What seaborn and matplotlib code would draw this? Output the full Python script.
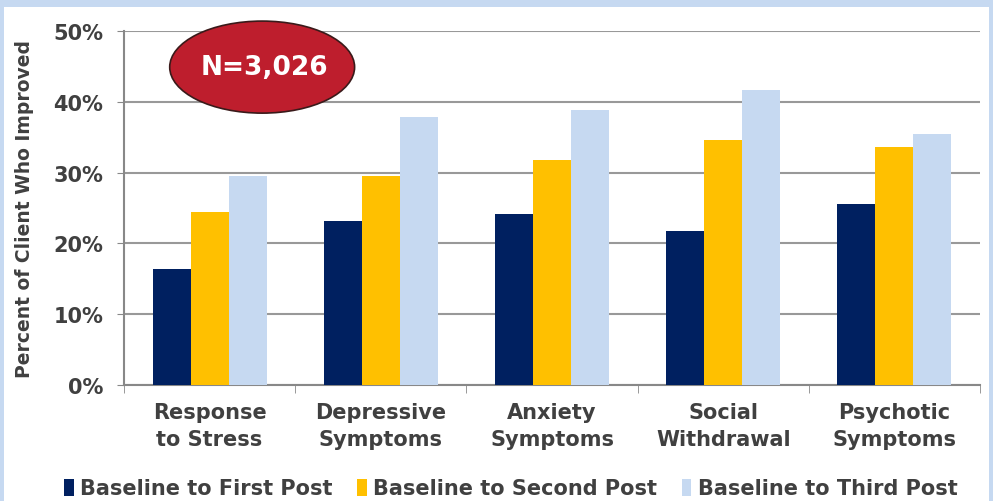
import pandas as pd
import matplotlib.pyplot as plt
import seaborn as sns
from matplotlib.patches import Ellipse, Rectangle

# Datos
categorias = ["Response\nto Stress", "Depressive\nSymptoms", "Anxiety\nSymptoms",
              "Social\nWithdrawal", "Psychotic\nSymptoms"]
series = ["Baseline to First Post", "Baseline to Second Post", "Baseline to Third Post"]
primero = [16.4, 23.2, 24.2, 21.7, 25.5]
segundo = [24.5, 29.5, 31.8, 34.6, 33.6]
tercero = [29.5, 37.9, 38.9, 41.7, 35.4]
colores = ["#002060", "#ffc000", "#c6d9f1"]

filas = []
for serie, valores in zip(series, [primero, segundo, tercero]):
    for cat, v in zip(categorias, valores):
        filas.append({"Categoria": cat, "Serie": serie, "Valor": v})
df = pd.DataFrame(filas)

sns.set_style("white")
plt.rcParams["font.family"] = ["DejaVu Sans"]
gris = "#404040"

fig = plt.figure(figsize=(9.93, 5.02), dpi=100, facecolor="#c6d9f1")
fig.patches.append(Rectangle((4 / 993, 0), 985 / 993, 494 / 502, transform=fig.transFigure,
                             facecolor="white", edgecolor="none", zorder=-10))
ax = fig.add_axes([124 / 993, 116 / 502, 856 / 993, 354 / 502])
ax.set_facecolor("none")

sns.barplot(data=df, x="Categoria", y="Valor", hue="Serie", palette=colores,
            width=0.667, ax=ax, saturation=1, linewidth=0, zorder=3)

ax.set_ylim(0, 50)
ax.set_xlim(-0.5, 4.5)
ax.set_yticks(range(0, 51, 10))
ax.set_yticklabels([f"{v}%" for v in range(0, 51, 10)], fontsize=15, fontweight="bold", color=gris)
ax.set_xticks(range(5))
ax.set_xticklabels(categorias, fontsize=15, fontweight="bold", color=gris, linespacing=1.45)
ax.set_xticks([i - 0.5 for i in range(6)], minor=True)
ax.tick_params(axis="x", which="major", length=0, pad=12)
ax.tick_params(axis="x", which="minor", length=6, color="#888888", direction="out", bottom=True)
ax.tick_params(axis="y", length=5, color="#888888", direction="out", left=True, pad=10)
ax.grid(axis="y", color="#999999", linewidth=1.5, zorder=0)
for s in ["top", "right"]:
    ax.spines[s].set_visible(False)
for s in ["left", "bottom"]:
    ax.spines[s].set_color("#888888")
    ax.spines[s].set_linewidth(1.5)
ax.set_xlabel("")
ax.set_ylabel("Percent of Client Who Improved", fontsize=13.5, fontweight="bold", color=gris, labelpad=14)

# Óvalo con el tamaño de la muestra
ax.add_patch(Ellipse((0.307, 44.9), 1.08, 13, facecolor="#be1e2d", edgecolor="#3a1a1a",
                     linewidth=1.2, zorder=5, clip_on=False))
ax.text(0.32, 44.9, "N=3,026", ha="center", va="center", fontsize=19,
        fontweight="bold", color="white", zorder=6)

handles, labels = ax.get_legend_handles_labels()
ax.legend(handles, labels, loc="center", bbox_to_anchor=(0.452, -0.292), ncol=3, frameon=False,
          handlelength=0.45, handleheight=0.9, handletextpad=0.3, columnspacing=1.2,
          labelcolor=gris, prop={"weight": "bold", "size": 15})

plt.savefig("out.png", dpi=100, facecolor=fig.get_facecolor())
